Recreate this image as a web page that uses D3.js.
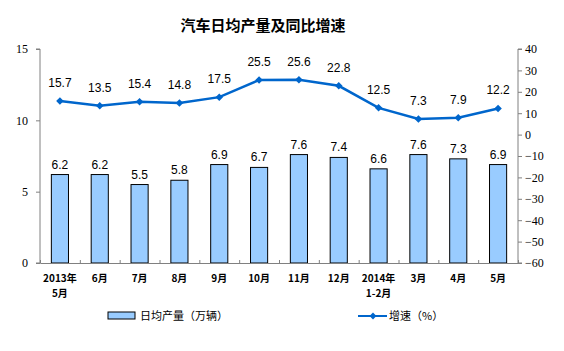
<!DOCTYPE html>
<html>
<head>
<meta charset="utf-8">
<script src="https://cdn.jsdelivr.net/npm/d3@7"></script>
<style>
  body { margin: 0; background: #fff; }
  svg { display: block; }
</style>
</head>
<body>
<div id="chart"></div>
<script>
// data
const months = [["2013年", "5月"], ["6月"], ["7月"], ["8月"], ["9月"], ["10月"], ["11月"], ["12月"], ["2014年", "1-2月"], ["3月"], ["4月"], ["5月"]];
const output = [6.2, 6.2, 5.5, 5.8, 6.9, 6.7, 7.6, 7.4, 6.6, 7.6, 7.3, 6.9];
const growth = [15.7, 13.5, 15.4, 14.8, 17.5, 25.5, 25.6, 22.8, 12.5, 7.3, 7.9, 12.2];
const leftTicks = [0, 5, 10, 15];
const rightTicks = [40, 30, 20, 10, 0, -10, -20, -30, -40, -50, -60];

const W = 564, H = 351;
const plotLeft = 40, plotRight = 518, plotTop = 49, plotBottom = 263;

const svg = d3.select("#chart").append("svg")
    .attr("width", W)
    .attr("height", H);

const x = d3.scaleBand()
    .domain(d3.range(months.length))
    .range([plotLeft, plotRight])
    .paddingInner(0.57)
    .paddingOuter(0.285);

const yL = d3.scaleLinear().domain([0, 15]).range([plotBottom, plotTop]);
const yR = d3.scaleLinear().domain([-60, 40]).range([plotBottom, plotTop]);

// title
svg.append("text")
    .attr("x", 263).attr("y", 31)
    .attr("text-anchor", "middle")
    .style("font-family", "'Noto Sans CJK SC', sans-serif")
    .style("font-size", "15px")
    .style("font-weight", "bold")
    .text("汽车日均产量及同比增速");

// bars
svg.selectAll(".bar")
    .data(output)
    .enter().append("rect")
    .attr("class", "bar")
    .attr("x", (d, i) => x(i))
    .attr("y", d => yL(d))
    .attr("width", x.bandwidth())
    .attr("height", d => plotBottom - yL(d))
    .attr("fill", "#99ccff")
    .attr("stroke", "#000")
    .attr("stroke-width", 1);

svg.selectAll(".barlabel")
    .data(output)
    .enter().append("text")
    .attr("x", (d, i) => x(i) + x.bandwidth() / 2)
    .attr("y", d => yL(d) - 6)
    .attr("text-anchor", "middle")
    .style("font-family", "'Liberation Sans', Arial, sans-serif")
    .style("font-size", "12px")
    .text(d => d.toFixed(1));

// axes
const axisColor = "#808080";
const gL = svg.append("g")
    .attr("transform", `translate(${plotLeft},0)`)
    .call(d3.axisLeft(yL).tickValues(leftTicks).tickSize(4).tickPadding(8));
const gR = svg.append("g")
    .attr("transform", `translate(${plotRight},0)`)
    .call(d3.axisRight(yR).tickValues(rightTicks).tickSize(4).tickPadding(3));
const gX = svg.append("g")
    .attr("transform", `translate(0,${plotBottom})`)
    .call(d3.axisBottom(d3.scaleLinear().domain([0, 12]).range([plotLeft, plotRight]))
        .tickValues(d3.range(1, 12)).tickSize(-3).tickFormat(""));

[gL, gR, gX].forEach(g => {
  g.select(".domain").attr("stroke", axisColor);
  g.selectAll(".tick line").attr("stroke", axisColor);
  g.selectAll("text")
    .attr("fill", "#000")
    .style("font-family", "'Liberation Serif', 'Times New Roman', serif")
    .style("font-size", "12px");
});
gL.select(".domain").attr("d", `M-4,${plotTop}H0V${plotBottom}H-4`);
gR.select(".domain").attr("d", `M4,${plotTop}H0V${plotBottom}H4`);

// x labels
const xl = svg.selectAll(".xlabel")
    .data(months)
    .enter().append("text")
    .attr("text-anchor", "middle")
    .style("font-family", "'Noto Sans CJK SC', sans-serif")
    .style("font-size", "10px")
    .style("font-weight", "bold");
xl.each(function(d, i) {
  const t = d3.select(this);
  d.forEach((s, j) => {
    t.append("tspan")
      .attr("x", x(i) + x.bandwidth() / 2)
      .attr("y", 282 + j * 15)
      .text(s);
  });
});

// line
const lineColor = "#0066cc";
const line = d3.line()
    .x((d, i) => x(i) + x.bandwidth() / 2)
    .y(d => yR(d));

svg.append("path")
    .datum(growth)
    .attr("d", line)
    .attr("fill", "none")
    .attr("stroke", lineColor)
    .attr("stroke-width", 2.5);

svg.selectAll(".pt")
    .data(growth)
    .enter().append("path")
    .attr("d", d3.symbol().type(d3.symbolDiamond2).size(36))
    .attr("transform", (d, i) => `translate(${x(i) + x.bandwidth() / 2},${yR(d)})`)
    .attr("fill", lineColor);

svg.selectAll(".ptlabel")
    .data(growth)
    .enter().append("text")
    .attr("x", (d, i) => x(i) + x.bandwidth() / 2)
    .attr("y", d => yR(d) - 14)
    .attr("text-anchor", "middle")
    .style("font-family", "'Liberation Sans', Arial, sans-serif")
    .style("font-size", "12px")
    .text(d => d.toFixed(1));

// legend
const lg = svg.append("g").style("font-family", "'Noto Sans CJK SC', sans-serif").style("font-size", "11px");
lg.append("rect")
    .attr("x", 108).attr("y", 312).attr("width", 27).attr("height", 7)
    .attr("fill", "#99ccff").attr("stroke", "#000");
lg.append("text").attr("x", 140).attr("y", 320).text("日均产量（万辆）");
lg.append("line")
    .attr("x1", 358).attr("x2", 387).attr("y1", 316).attr("y2", 316)
    .attr("stroke", lineColor).attr("stroke-width", 2);
lg.append("path")
    .attr("d", d3.symbol().type(d3.symbolDiamond2).size(30))
    .attr("transform", "translate(373,316)")
    .attr("fill", lineColor);
lg.append("text").attr("x", 389).attr("y", 320).text("增速（%）");
</script>
</body>
</html>
